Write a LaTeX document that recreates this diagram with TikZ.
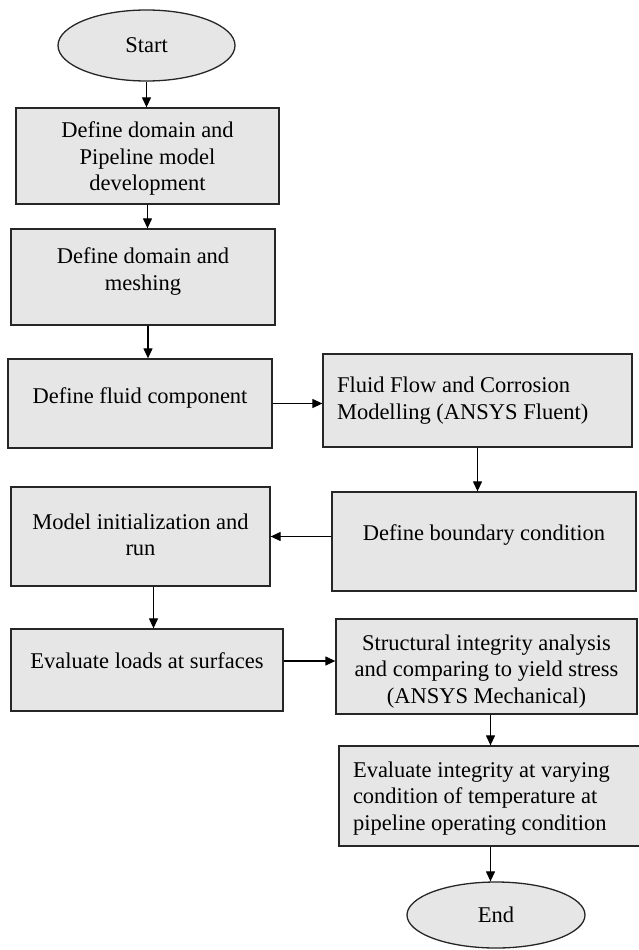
\documentclass[tikz,border=0pt]{standalone}
\usepackage{fontspec}
\setmainfont{Liberation Serif}
\usetikzlibrary{arrows.meta}
\usetikzlibrary{shapes.geometric}
\definecolor{boxgray}{HTML}{E6E6E6}

% Text im Kasten: Hoehe, Breite, Abstand oben, Inhalt
\newcommand{\flowtxt}[4]{\parbox[c][#1][t]{#2}{\vspace*{#3}#4}}

\tikzset{
    procbox/.style={draw=black!85, fill=boxgray, line width=1.3pt, inner sep=0pt},
    termbox/.style={ellipse, draw=black!85, fill=boxgray, line width=1.3pt, inner sep=0pt},
    flowarrow/.style={->, line width=1.2pt}
}

\begin{document}
\begin{tikzpicture}[x=1pt, y=-1pt, >={Triangle[length=10pt,width=9pt]},
    font=\fontsize{22.5}{26.7}\selectfont] % Pixelraster, y nach unten

    \useasboundingbox (0,0) rectangle (639,950);

    % Start und Ende
    \node[termbox, minimum width=177pt, minimum height=71pt] (start) at (146.5,45.5) {Start};
    \node[termbox, minimum width=178pt, minimum height=66pt] (stop) at (496,915) {End};

    % linke Spalte
    \node[procbox] (b1) at (147.5,156) {\flowtxt{96pt}{263pt}{13.6pt}{\centering Define domain and\\Pipeline model\\development}};
    \node[procbox] (b2) at (143,277) {\flowtxt{96pt}{264pt}{18.6pt}{\centering Define domain and\\meshing}};
    \node[procbox] (b3) at (140,403.5) {\flowtxt{89pt}{264pt}{28.6pt}{\centering Define fluid component}};
    \node[procbox] (b6) at (140.5,536.5) {\flowtxt{99pt}{259pt}{26.6pt}{\centering Model initialization and\\run}};
    \node[procbox] (b7) at (147,670) {\flowtxt{82pt}{272pt}{23.6pt}{\centering Evaluate loads at surfaces}};

    % rechte Spalte
    \node[procbox, inner xsep=14pt] (b4) at (477.5,400.5) {\flowtxt{93pt}{281pt}{23.3pt}{\raggedright Fluid Flow and Corrosion\\Modelling (ANSYS Fluent)}};
    \node[procbox] (b5) at (484,541.5) {\flowtxt{99pt}{304pt}{32.6pt}{\centering Define boundary condition}};
    \node[procbox] (b8) at (486.5,666.5) {\flowtxt{95pt}{301pt}{15.6pt}{\centering Structural integrity analysis\\and comparing to yield stress\\(ANSYS Mechanical)}};
    \node[procbox, inner xsep=14pt] (b9) at (490.5,796) {\flowtxt{100pt}{275pt}{15.6pt}{\raggedright Evaluate integrity at varying\\condition of temperature at\\pipeline operating condition}};

    % Pfeile
    \draw[flowarrow] (start) -- (start |- b1.north);
    \draw[flowarrow] (b1) -- (b1 |- b2.north);
    \draw[flowarrow] ([xshift=5pt]b2.south) -- ([xshift=5pt]b2.south |- b3.north);
    \draw[flowarrow] (b3) -- (b3 -| b4.west);
    \draw[flowarrow] (b4) -- (b4 |- b5.north);
    \draw[flowarrow] (b6.east -| b5.west) -- (b6.east);
    \draw[flowarrow] ([xshift=13pt]b6.south) -- ([xshift=13pt]b6.south |- b7.north);
    \draw[flowarrow] ([yshift=9pt]b7.east) -- ([yshift=9pt]b7.east -| b8.west);
    \draw[flowarrow] ([xshift=4pt]b8.south) -- ([xshift=4pt]b8.south |- b9.north);
    \draw[flowarrow] (b9) -- (b9 |- stop.north);
\end{tikzpicture}
\end{document}
